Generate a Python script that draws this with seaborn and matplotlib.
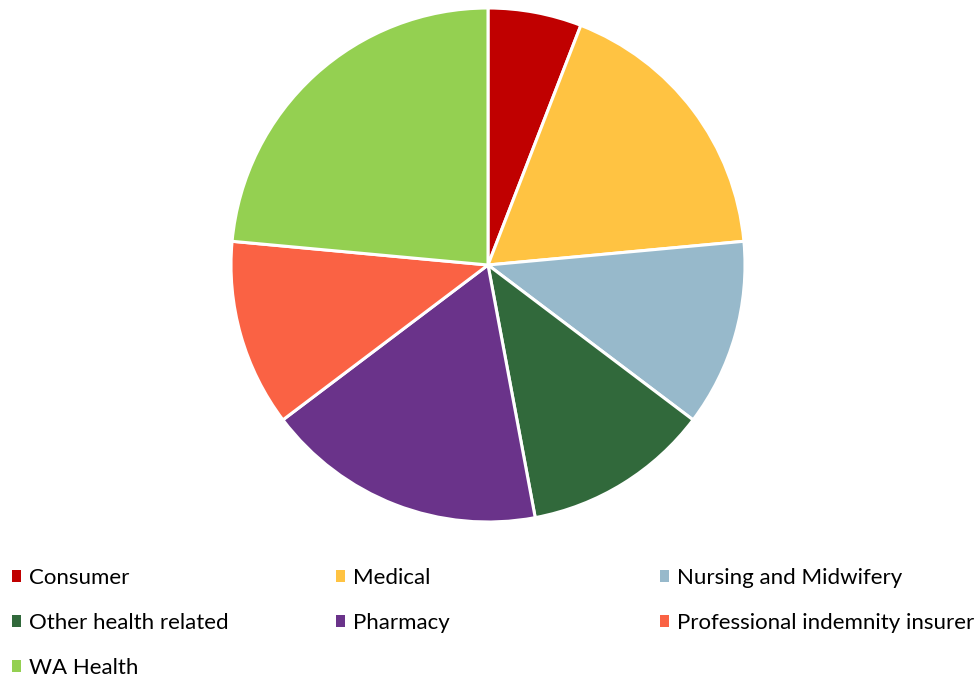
import matplotlib
matplotlib.use("Agg")
import matplotlib.pyplot as plt
from matplotlib.patches import Patch
import seaborn as sns

categories = ["Consumer", "Medical", "Nursing and Midwifery", "Other health related",
              "Pharmacy", "Professional indemnity insurer", "WA Health"]
counts = [1, 3, 2, 2, 3, 2, 4]
colors = ["#C00000", "#FFC342", "#97B9CB", "#31693B", "#6A338A", "#FA6244", "#94D051"]

sns.set_theme(style="white")
plt.rcParams["font.family"] = ["Lato", "DejaVu Sans"]

W, H = 979, 679
fig = plt.figure(figsize=(W / 100, H / 100), dpi=100)
cx, cy, r = 488, 265, 257
ax = fig.add_axes([(cx - r) / W, (H - cy - r) / H, 2 * r / W, 2 * r / H])
palette = sns.color_palette(colors)
ax.pie(counts, colors=palette, startangle=90, counterclock=False, radius=1,
       wedgeprops=dict(edgecolor="white", linewidth=2.2))
ax.set_xlim(-1.0, 1.0)
ax.set_ylim(-1.0, 1.0)
ax.set_aspect("equal")
ax.axis("off")

# legend: three columns, items filled row by row
col_x = [12, 336, 660]
for c, x in enumerate(col_x):
    idx = list(range(c, len(categories), 3))
    handles = [Patch(facecolor=palette[i], edgecolor="none") for i in idx]
    labels = [categories[i] for i in idx]
    fig.legend(handles, labels, loc="upper left",
               bbox_to_anchor=(x / W, 1 - 568 / H),
               frameon=False, fontsize=16, handlelength=0.42, handleheight=0.42,
               handletextpad=0.36, labelspacing=1.12, borderaxespad=0, borderpad=0,
               labelcolor="#000000")

fig.savefig("out.png", dpi=100, facecolor="white")
